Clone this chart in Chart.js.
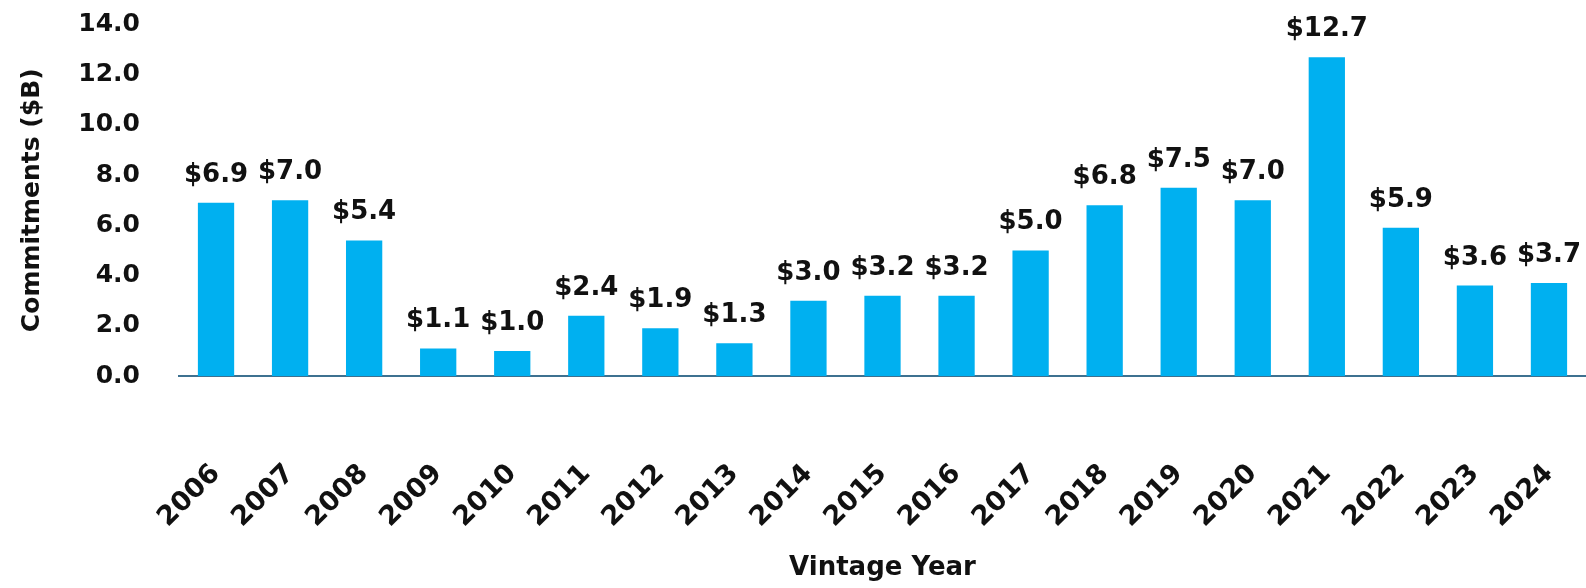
<!DOCTYPE html>
<html>
<head>
<meta charset="utf-8">
<script src="https://cdn.jsdelivr.net/npm/chart.js@4"></script>
<style>
  html, body { margin:0; padding:0; background:#fff; }
  #wrap { width:1586px; height:588px; }
</style>
</head>
<body>
<div id="wrap"><canvas id="chart"></canvas></div>
<script>
// jaren + commitments ($B)
const years = ["2006","2007","2008","2009","2010","2011","2012","2013","2014","2015",
               "2016","2017","2018","2019","2020","2021","2022","2023","2024"];
const commitments = [6.9, 7.0, 5.4, 1.1, 1.0, 2.4, 1.9, 1.3, 3.0, 3.2,
                     3.2, 5.0, 6.8, 7.5, 7.0, 12.7, 5.9, 3.6, 3.7];
const yTicks = [0, 2, 4, 6, 8, 10, 12, 14];

const FONT = "'DejaVu Sans', sans-serif";

// waarde labels boven de bars
const barLabels = {
  id: "barLabels",
  afterDatasetsDraw(chart){
    const ctx = chart.ctx;
    const meta = chart.getDatasetMeta(0);
    ctx.save();
    ctx.font = `bold 26px ${FONT}`;
    ctx.fillStyle = "#111";
    ctx.textAlign = "center";
    ctx.textBaseline = "alphabetic";
    meta.data.forEach((bar, i) => {
      ctx.fillText("$" + commitments[i].toFixed(1), bar.x, bar.y - 21);
    });
    ctx.restore();
  }
};

new Chart(document.getElementById("chart"), {
  type: "bar",
  data: {
    labels: years,
    datasets: [{
      data: commitments,
      backgroundColor: "#00B0F0",
      barPercentage: 0.49,
      categoryPercentage: 1
    }]
  },
  options: {
    responsive: true,
    maintainAspectRatio: false,
    animation: false,
    layout: { padding: 0 },
    plugins: { legend: { display: false }, tooltip: { enabled: false } },
    scales: {
      x: {
        grid: { display: false, drawTicks: false },
        border: { display: true, color: "#3E7190", width: 2 },
        ticks: {
          color: "#111",
          font: { family: FONT, weight: "bold", size: 27 },
          maxRotation: 45, minRotation: 45,
          padding: 82
        },
        title: {
          display: true, text: "Vintage Year", color: "#111",
          font: { family: FONT, weight: "bold", size: 26 },
          padding: { top: 0, bottom: 4 }
        },
        afterFit: s => { s.height = 212; s.paddingLeft = 0; s.paddingRight = 0; }
      },
      y: {
        min: 0, max: 14,
        afterBuildTicks: s => { s.ticks = yTicks.map(v => ({ value: v })); },
        grid: { display: false, drawTicks: false },
        border: { display: false },
        ticks: {
          color: "#111",
          font: { family: FONT, weight: "bold", size: 25 },
          padding: 39,
          callback: v => Number(v).toFixed(1)
        },
        title: {
          display: true, text: "Commitments ($B)", color: "#111",
          font: { family: FONT, weight: "bold", size: 25 },
          padding: { top: 17, bottom: 0 }
        },
        afterFit: s => { s.width = 179; s.paddingTop = 24.5; s.paddingBottom = 0; }
      }
    }
  },
  plugins: [barLabels]
});
</script>
</body>
</html>
